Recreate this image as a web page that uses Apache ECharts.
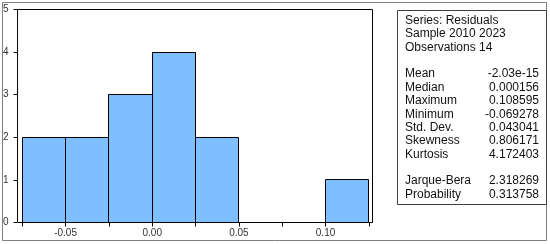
<!DOCTYPE html>
<html>
<head>
<meta charset="utf-8">
<script src="https://cdn.jsdelivr.net/npm/echarts@6/dist/echarts.min.js"></script>
<style>
  html, body { margin: 0; padding: 0; background: #fff; }
  #chart { width: 550px; height: 244px; }
</style>
</head>
<body>
<div id="chart"></div>
<script>
// --- Data ---
const binStarts = [-0.075, -0.05, -0.025, 0, 0.025, 0.05, 0.075, 0.1];
const binWidth = 0.025;
const counts = [2, 2, 3, 4, 2, 0, 0, 1];
const xTickValues = [-0.075, -0.05, -0.025, 0, 0.025, 0.05, 0.075, 0.1, 0.125];
const xLabelValues = [-0.05, 0, 0.05, 0.1];

const headerLines = ['Series: Residuals', 'Sample 2010 2023', 'Observations 14'];
const statNames = ['Mean', 'Median', 'Maximum', 'Minimum', 'Std. Dev.', 'Skewness', 'Kurtosis'];
const statValues = ['-2.03e-15', '0.000156', '0.108595', '-0.069278', '0.043041', '0.806171', '4.172403'];
const testNames = ['Jarque-Bera', 'Probability'];
const testValues = ['2.318269', '0.313758'];

// --- Stats box text (one entry per row; null rows are blank spacers) ---
const FONT = '"Liberation Sans", Arial, sans-serif';
const rows = [];
headerLines.forEach(t => rows.push([t, null]));
rows.push(null);
statNames.forEach((t, i) => rows.push([t, statValues[i]]));
rows.push(null);
testNames.forEach((t, i) => rows.push([t, testValues[i]]));

const boxText = [];
rows.forEach((r, i) => {
    if (!r) return;
    const y = 20.7 + i * 13.36;
    boxText.push({
        type: 'text', x: 405, y: y,
        style: { text: r[0], font: '12px ' + FONT, fill: '#111', verticalAlign: 'middle', align: 'left' }
    });
    if (r[1]) {
        boxText.push({
            type: 'text', x: 539, y: y,
            style: { text: r[1], font: '12px ' + FONT, fill: '#111', verticalAlign: 'middle', align: 'right' }
        });
    }
});

const chart = echarts.init(document.getElementById('chart'), null, { renderer: 'canvas' });

// half-pixel edges keep the 1px outlines crisp
const crisp = v => Math.floor(v) + 0.5;

chart.setOption({
    animation: false,
    backgroundColor: '#fff',
    // grid border doubles as the axis lines
    grid: {
        left: 15.5, right: 177.5, top: 9.5, bottom: 21.5,
        show: true, borderColor: '#000', borderWidth: 1
    },
    xAxis: {
        type: 'value',
        min: -0.0777, max: 0.1271,
        splitLine: { show: false },
        axisLine: { show: false, onZero: false },
        axisTick: { show: true, length: 4, lineStyle: { color: '#000' }, customValues: xTickValues },
        axisLabel: {
            customValues: xLabelValues,
            margin: 6, fontSize: 10, fontFamily: FONT, color: '#333',
            formatter: v => v.toFixed(2)
        }
    },
    yAxis: {
        type: 'value',
        min: 0, max: 5, interval: 1,
        splitLine: { show: false },
        axisLine: { show: false, onZero: false },
        axisTick: { show: true, length: 4, lineStyle: { color: '#000' } },
        axisLabel: { margin: 9, fontSize: 10, fontFamily: FONT, color: '#333' }
    },
    series: [{
        type: 'custom',
        data: binStarts.map((s, i) => [s, s + binWidth, counts[i]]),
        encode: { x: [0, 1], y: 2 },
        renderItem: (params, api) => {
            const n = api.value(2);
            if (!n) return null;
            const p0 = api.coord([api.value(0), 0]);
            const p1 = api.coord([api.value(1), n]);
            const x0 = crisp(p0[0]), x1 = crisp(p1[0]);
            const y0 = crisp(p0[1]), y1 = crisp(p1[1]);
            return {
                type: 'rect',
                shape: { x: x0, y: y1, width: x1 - x0, height: y0 - y1 },
                style: { fill: '#80bfff', stroke: '#000', lineWidth: 1 }
            };
        }
    }],
    graphic: [
        // outer frame
        { type: 'rect', shape: { x: 2.5, y: 2.5, width: 544, height: 238 },
          style: { fill: 'none', stroke: '#808080', lineWidth: 1 }, silent: true },
        // stats box
        { type: 'rect', shape: { x: 397.5, y: 10.5, width: 149, height: 194 },
          style: { fill: '#fff', stroke: '#404040', lineWidth: 1 }, silent: true },
        ...boxText
    ]
});
</script>
</body>
</html>
